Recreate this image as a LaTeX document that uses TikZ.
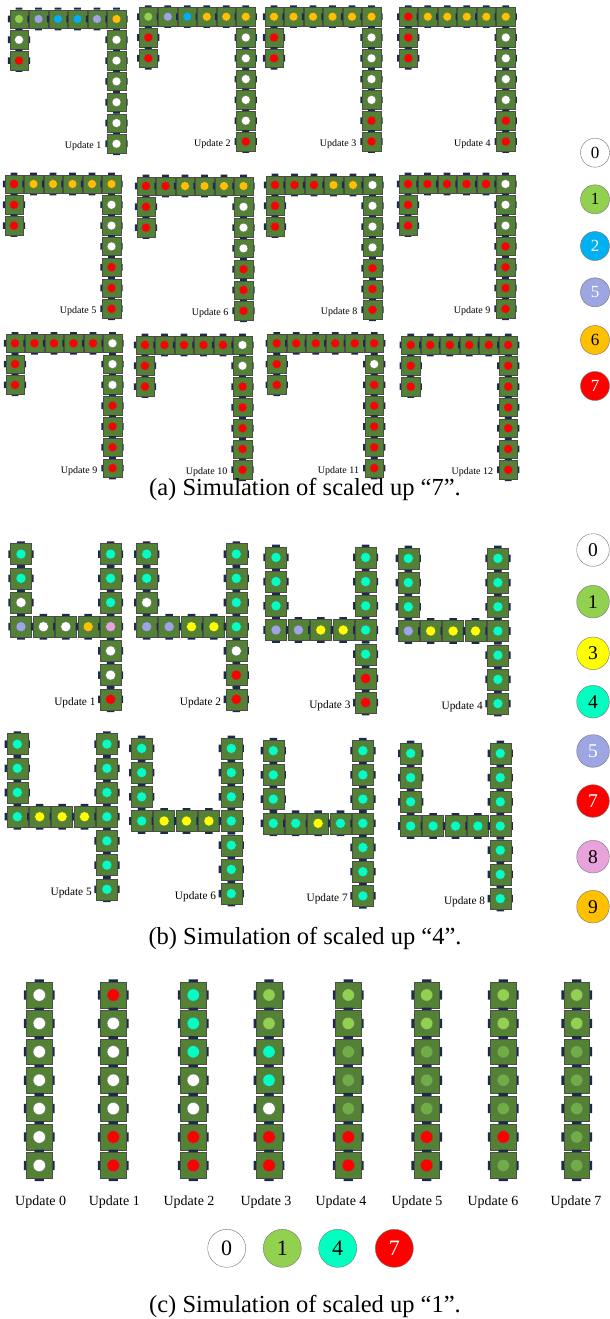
\documentclass[tikz,border=0pt]{standalone}
\usepackage{fontspec}
\setmainfont{Liberation Serif}
\usetikzlibrary{positioning}
\definecolor{s0}{HTML}{FFFFFF}
\definecolor{s1}{HTML}{92D050}
\definecolor{sg}{HTML}{70AD47}
\definecolor{s2}{HTML}{00B0F0}
\definecolor{s3}{HTML}{FFFF00}
\definecolor{s4}{HTML}{00FFC0}
\definecolor{s5}{HTML}{9DA6E3}
\definecolor{s6}{HTML}{FFC000}
\definecolor{s7}{HTML}{FF0000}
\definecolor{s8}{HTML}{E8A3DC}
\definecolor{s9}{HTML}{FFC000}
\definecolor{cubegreen}{HTML}{548235}
\definecolor{tabnavy}{HTML}{1C2B4A}
\tikzset{
  tabbar/.style={fill=tabnavy},
  face/.style={fill=cubegreen, draw=black!70, line width=0.4pt},
  dot/.style={draw=black!60, line width=0.35pt},
  laba/.style={anchor=east, inner sep=0pt, font=\fontsize{10}{12}\selectfont},
  labb/.style={anchor=east, inner sep=0pt, font=\fontsize{11.3}{13}\selectfont},
  labc/.style={inner sep=0pt, font=\fontsize{14}{16}\selectfont},
  captext/.style={inner sep=0pt, font=\fontsize{24.5}{28}\selectfont},
  leg/.style={circle, draw=black!55, line width=0.4pt, inner sep=0pt}
}
% one module: x, y, side, colour
\newcommand{\blk}[4]{%
  \begin{scope}[shift={({#1},{#2})}, scale=#3]
    \fill[tabbar] (-0.18,-0.5) rectangle (0.18,-0.61) (-0.18,0.5) rectangle (0.18,0.61)
      (-0.5,-0.18) rectangle (-0.6,0.18) (0.5,-0.18) rectangle (0.6,0.18);
    \draw[face] (-0.5,-0.5) rectangle (0.5,0.5);
    \draw[dot, fill=#4] (0,0) circle (0.24);
  \end{scope}}
% "7": x, y, top row, left column, right column, update, name
\newcommand{\seven}[7]{%
  \foreach \c [count=\i from 0] in {#3} {\blk{#1+\i*19.5}{#2}{18.5}{s\c}}
  \foreach \c [count=\i] in {#4} {\blk{#1}{#2+\i*20.8}{18.5}{s\c}}
  \foreach \c [count=\i] in {#5} {\blk{#1+97.5}{#2+\i*20.8}{18.5}{s\c}}
  \node[laba] (#7) at ({#1+97.5-15},{#2+6*20.8+2.5}) {Update #6};}
% "4": x, y of bar, left column, bar, right up, right down, update, name
\newcommand{\four}[8]{%
  \foreach \c [count=\i from 0] in {#3} {\blk{#1}{#2+(\i-3)*24.2}{21}{s\c}}
  \foreach \c [count=\i from 0] in {#4} {\blk{#1+\i*22.4}{#2}{21}{s\c}}
  \foreach \c [count=\i from 0] in {#5} {\blk{#1+89.6}{#2+(\i-3)*24.2}{21}{s\c}}
  \foreach \c [count=\i] in {#6} {\blk{#1+89.6}{#2+\i*24.2}{21}{s\c}}
  \node[labb] (#8) at ({#1+89.6-15},{#2+3*24.2+3}) {Update #7};}

\begin{document}
\begin{tikzpicture}[x=1pt,y=-1pt]
  \useasboundingbox (0,0) rectangle (610,1319);
  % (a)
  \seven{19}{19}{1,5,2,2,5,6}{0,7}{0,0,0,0,0,0}{1}{ua1}
  \seven{148.3}{16.7}{1,5,2,6,6,6}{7,7}{0,0,0,0,0,7}{2}{ua2}
  \seven{274}{16.7}{6,6,6,6,6,6}{7,7}{0,0,0,0,7,7}{3}{ua3}
  \seven{408.3}{16.7}{7,6,6,6,6,6}{7,7}{0,0,0,0,7,7}{4}{ua4}
  \seven{14}{184}{7,6,6,6,6,6}{7,7}{0,0,0,7,7,7}{5}{ua5}
  \seven{146}{186}{7,7,6,6,6,6}{7,7}{0,0,0,7,7,7}{6}{ua6}
  \seven{275}{185}{7,7,7,6,6,0}{7,7}{0,0,0,7,7,7}{8}{ua8}
  \seven{408}{184}{7,7,7,7,7,0}{7,7}{0,0,7,7,7,7}{9}{ua9}
  \seven{15}{343.3}{7,7,7,7,7,0}{7,7}{0,0,7,7,7,7}{9}{ua9b}
  \seven{145}{345}{7,7,7,7,7,0}{7,7}{0,7,7,7,7,7}{10}{ua10}
  \seven{276.7}{343.3}{7,7,7,7,7,7}{7,7}{0,7,7,7,7,7}{11}{ua11}
  \seven{410.7}{345}{7,7,7,7,7,7}{7,7}{7,7,7,7,7,7}{12}{ua12}
  \foreach \d/\yy/\tc in {0/152.7/black,1/199.3/black,2/246/white,5/292.3/white,6/340/black,7/386/white}
    \node[leg, fill=s\d, text=\tc, minimum size=29pt, font=\fontsize{17}{17}\selectfont] (lga\d) at (595,\yy) {\d};
  \node[captext] (capa) at (305,489) {(a) Simulation of scaled up “7”.};
  % (b)
  \four{21}{626.7}{4,4,0}{5,0,0,9,8}{4,4,4}{0,0,7}{1}{ub1}
  \four{146.7}{626.7}{4,4,0}{5,5,3,3,4}{4,4,4}{0,7,7}{2}{ub2}
  \four{276}{630}{4,4,4}{5,5,3,3,4}{4,4,4}{4,7,7}{3}{ub3}
  \four{408.3}{631}{4,4,4}{5,3,3,3,4}{4,4,4}{4,4,4}{4}{ub4}
  \four{17.3}{816.7}{4,4,4}{4,3,3,3,4}{4,4,4}{4,4,4}{5}{ub5}
  \four{141.7}{821}{4,4,4}{4,3,3,3,4}{4,4,4}{4,4,4}{6}{ub6}
  \four{273.3}{823.3}{4,4,4}{4,4,3,4,4}{4,4,4}{4,4,4}{7}{ub7}
  \four{410.7}{826}{4,4,4}{4,4,4,4,4}{4,4,4}{4,4,4}{8}{ub8}
  \foreach \d/\yy/\tc in {0/550/black,1/601.7/black,3/653.3/black,4/701.7/black,5/751/white,7/801/white,8/856.7/black,9/906.7/black}
    \node[leg, fill=s\d, text=\tc, minimum size=32.6pt, font=\fontsize{19.5}{19.5}\selectfont] (lgb\d) at (593,\yy) {\d};
  \node[captext] (capb) at (305,938) {(b) Simulation of scaled up “4”.};
  % (c)
  \foreach \n/\xx/\lx/\cols in {0/39.3/40.7/{0,0,0,0,0,0,0},1/113.3/114.3/{7,0,0,0,0,7,7},
      2/193.3/189/{4,4,4,0,0,7,7},3/269/266/{1,1,4,4,0,7,7},4/348.3/341/{1,1,g,g,g,7,7},
      5/426.7/417/{1,1,g,g,g,7,7},6/503.3/493/{1,1,g,g,g,7,g},7/576.7/576/{1,1,g,g,g,g,g}}{
    \foreach \c [count=\i from 0] in \cols {\blk{\xx}{995+\i*28.4}{25.7}{s\c}}
    \node[labc] (uc\n) at (\lx,1201.7) {Update \n};}
  \foreach \d/\xx/\tc in {0/226.7/black,1/282.3/black,4/337.7/black,7/394.3/white}
    \node[leg, fill=s\d, text=\tc, minimum size=38pt, font=\fontsize{22}{22}\selectfont] (lgc\d) at (\xx,1248.3) {\d};
  \node[captext] (capc) at (305,1306) {(c) Simulation of scaled up “1”.};
\end{tikzpicture}
\end{document}
